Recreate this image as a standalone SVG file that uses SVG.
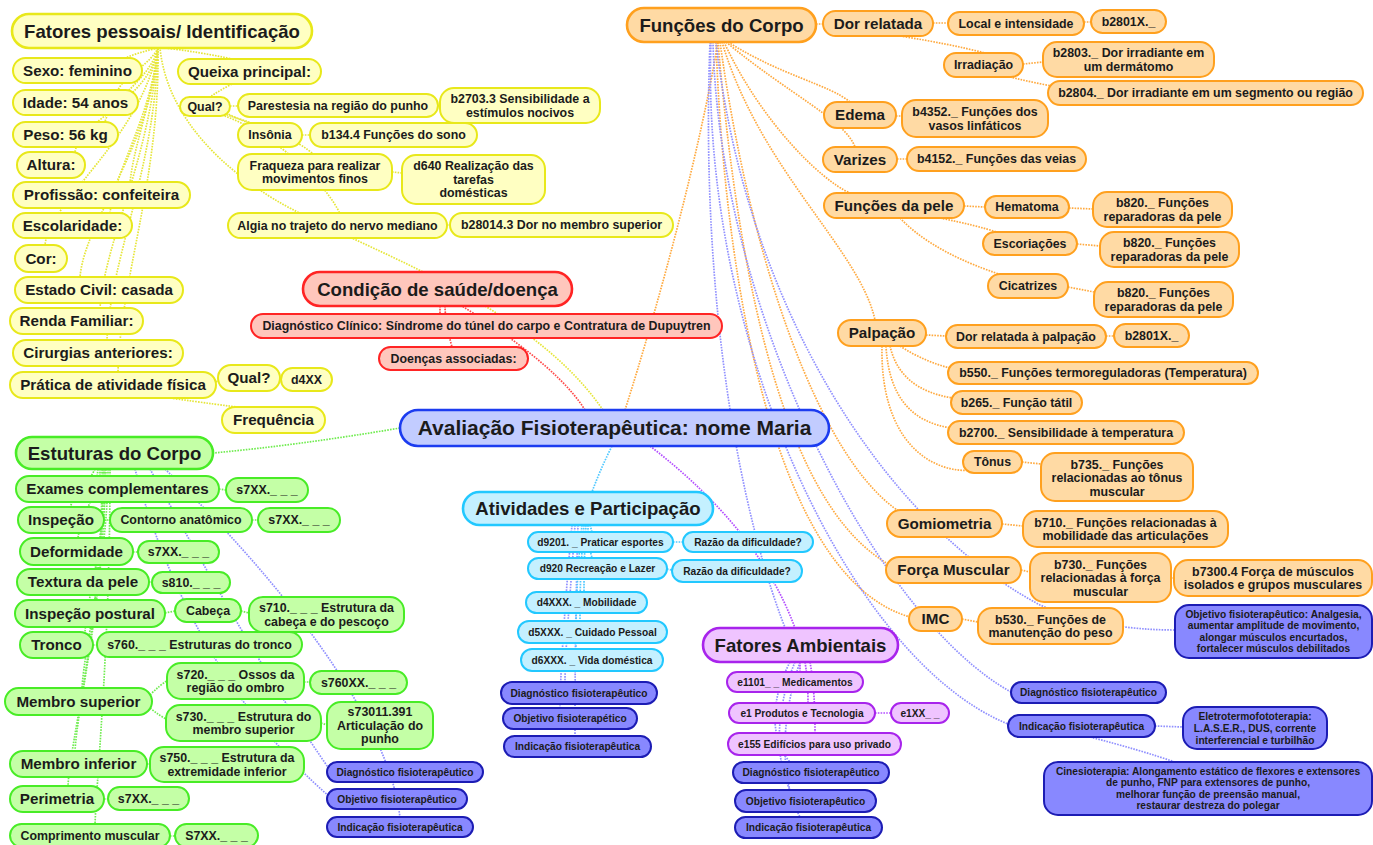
<svg xmlns="http://www.w3.org/2000/svg" width="1373" height="845" viewBox="0 0 1373 845">
<style>
text{font-family:"Liberation Sans",Arial,Helvetica,sans-serif;font-weight:bold;fill:#1b1b1b;text-anchor:middle}
.fc{font-size:21px}.f1{font-size:18.6px}.f2{font-size:15.2px}.f3{font-size:12.4px}.f4{font-size:10.2px}
rect{stroke-width:2}
rect.L1{stroke-width:2.6}
.y rect{fill:#ffffc2;stroke:#e8e81a}
.r rect{fill:#ffc6bc;stroke:#ff2424}
.c rect{fill:#c2ccff;stroke:#1c3cf0;stroke-width:2.6}
.g rect{fill:#c4ffa6;stroke:#48ec26}
.cy rect{fill:#c4f0ff;stroke:#22c8ff}
.p rect{fill:#efc4ff;stroke:#a824ec}
.o rect{fill:#ffdaa4;stroke:#ffa01e}
.i rect{fill:#8888ff;stroke:#1c1cb4}
#connectors path{fill:none;stroke-width:1.7;stroke-dasharray:1.6 1.2}
.ly{stroke:#e6e63a}.lr{stroke:#ff4a4a}.lo{stroke:#ffaa40}.li{stroke:#9090ff}.lg{stroke:#70ec50}.lc{stroke:#50c8ff}.lp{stroke:#b450ff}
</style>
<rect width="1373" height="845" fill="#ffffff"/>
<g id="connectors">
<path class="ly" d="M603,410 C520,290 330,240 260,190 C200,150 165,100 160,48"/>
<path class="ly" d="M158,48 Q140,52 125,58"/>
<path class="ly" d="M158,48 C150,65 125,75 118,90"/>
<path class="ly" d="M158,48 C150,80 110,100 105,122"/>
<path class="ly" d="M158,48 C150,100 80,120 75,152"/>
<path class="ly" d="M158,48 C150,110 135,140 130,182"/>
<path class="ly" d="M158,48 C150,120 115,170 110,213"/>
<path class="ly" d="M158,48 C140,140 50,200 45,245"/>
<path class="ly" d="M158,48 C150,150 85,220 80,277"/>
<path class="ly" d="M158,48 C150,160 105,240 100,308"/>
<path class="ly" d="M158,48 C155,170 110,260 107,340"/>
<path class="ly" d="M158,48 C160,180 120,280 118,372"/>
<path class="ly" d="M165,48 Q200,52 232,59"/>
<path class="ly" d="M232,84 Q220,90 210,97"/>
<path class="ly" d="M230,106 L238,106"/>
<path class="ly" d="M226,113 Q240,120 252,124"/>
<path class="ly" d="M224,114 C260,125 300,140 315,156"/>
<path class="ly" d="M222,115 C280,135 330,190 340,214"/>
<path class="ly" d="M438,106 L440,106"/>
<path class="ly" d="M302,135 L310,135"/>
<path class="ly" d="M392,172 L402,173"/>
<path class="ly" d="M447,225 L450,225"/>
<path class="ly" d="M216,382 L219,380"/>
<path class="ly" d="M170,398 Q220,405 245,408"/>
<path class="ly" d="M280,379 L281,379"/>
<path class="lr" d="M585,410 C560,370 500,330 462,306"/>
<path class="lr" d="M440,306 L440,314"/>
<path class="lr" d="M445,306 C445,320 450,340 452,347"/>
<path class="lo" d="M625,410 C660,300 700,150 718,42"/>
<path class="lo" d="M816,24 L823,24"/>
<path class="lo" d="M728,42 C780,75 830,85 850,102"/>
<path class="lo" d="M726,42 C790,95 845,120 855,147"/>
<path class="lo" d="M724,42 C760,120 820,180 850,193"/>
<path class="lo" d="M722,42 C760,170 860,250 875,320"/>
<path class="lo" d="M720,42 C750,260 820,460 900,512"/>
<path class="lo" d="M718,42 C740,300 790,510 890,565"/>
<path class="lo" d="M716,42 C725,300 780,580 910,617"/>
<path class="lo" d="M933,23 L948,23"/>
<path class="lo" d="M1084,22 L1091,22"/>
<path class="lo" d="M900,36 Q950,44 985,53"/>
<path class="lo" d="M1023,64 L1043,62"/>
<path class="lo" d="M1010,77 Q1030,82 1052,86"/>
<path class="lo" d="M896,116 L902,116"/>
<path class="lo" d="M897,159 L907,159"/>
<path class="lo" d="M964,206 L985,207"/>
<path class="lo" d="M940,218 Q975,225 1000,233"/>
<path class="lo" d="M900,218 C930,250 980,268 1005,276"/>
<path class="lo" d="M1069,208 L1093,209"/>
<path class="lo" d="M1077,244 L1100,246"/>
<path class="lo" d="M1068,287 L1094,292"/>
<path class="lo" d="M926,335 L946,336"/>
<path class="lo" d="M1106,336 L1114,336"/>
<path class="lo" d="M900,346 Q925,362 950,368"/>
<path class="lo" d="M890,346 Q900,390 953,398"/>
<path class="lo" d="M886,346 Q890,420 952,428"/>
<path class="lo" d="M882,346 C880,440 930,475 975,470"/>
<path class="lo" d="M1022,462 L1041,464"/>
<path class="lo" d="M1002,524 L1023,526"/>
<path class="lo" d="M1021,570 L1030,572"/>
<path class="lo" d="M1171,578 L1174,578"/>
<path class="lo" d="M962,619 L978,622"/>
<path class="li" d="M710,42 C700,300 740,520 790,640"/>
<path class="li" d="M713,42 C720,320 880,620 1011,692"/>
<path class="li" d="M711,42 C700,340 850,660 1008,724"/>
<path class="li" d="M716,42 C745,300 880,520 1040,605 Q1100,630 1175,630"/>
<path class="li" d="M1155,726 L1183,727"/>
<path class="li" d="M1090,737 Q1140,750 1175,762"/>
<path class="li" d="M150,469 C200,560 280,700 330,770"/>
<path class="li" d="M135,469 C170,600 240,720 330,797"/>
<path class="li" d="M165,469 C280,580 390,720 400,818"/>
<path class="li" d="M575,525 C570,600 565,650 565,682"/>
<path class="li" d="M572,525 C565,600 560,680 560,708"/>
<path class="li" d="M578,525 C575,620 575,700 575,736"/>
<path class="li" d="M790,662 C770,700 770,740 790,762"/>
<path class="li" d="M795,662 C775,710 775,760 790,790"/>
<path class="li" d="M800,662 C780,720 780,780 800,817"/>
<path class="lg" d="M400,428 Q300,445 213,453"/>
<path class="lg" d="M100,469 L100,476"/>
<path class="lg" d="M95,469 C90,480 75,495 70,507"/>
<path class="lg" d="M98,469 C95,500 80,520 78,538"/>
<path class="lg" d="M102,469 C102,510 100,540 100,569"/>
<path class="lg" d="M104,469 C104,520 95,570 95,600"/>
<path class="lg" d="M106,469 C106,540 88,590 85,632"/>
<path class="lg" d="M108,469 C108,560 85,640 82,688"/>
<path class="lg" d="M105,469 C105,600 78,700 75,751"/>
<path class="lg" d="M103,469 C103,620 70,740 68,786"/>
<path class="lg" d="M110,469 C110,640 98,760 95,824"/>
<path class="lg" d="M219,489 L226,490"/>
<path class="lg" d="M104,520 L110,520"/>
<path class="lg" d="M252,520 L258,520"/>
<path class="lg" d="M133,552 L138,552"/>
<path class="lg" d="M149,582 L152,582"/>
<path class="lg" d="M165,613 L175,611"/>
<path class="lg" d="M241,611 L249,613"/>
<path class="lg" d="M93,645 L97,645"/>
<path class="lg" d="M150,695 Q160,685 168,680"/>
<path class="lg" d="M150,708 Q160,716 168,720"/>
<path class="lg" d="M304,682 L310,682"/>
<path class="lg" d="M321,723 L327,725"/>
<path class="lg" d="M147,764 L150,764"/>
<path class="lg" d="M104,799 L108,799"/>
<path class="lg" d="M170,836 L175,836"/>
<path class="lc" d="M612,446 Q600,470 592,492"/>
<path class="lc" d="M590,525 L592,532"/>
<path class="lc" d="M588,525 C588,540 590,550 592,558"/>
<path class="lc" d="M586,525 C584,560 584,580 584,592"/>
<path class="lc" d="M584,525 C580,570 580,600 580,621"/>
<path class="lc" d="M582,525 C576,580 576,620 576,649"/>
<path class="lc" d="M673,542 L683,542"/>
<path class="lc" d="M667,569 L672,570"/>
<path class="lp" d="M650,446 C720,500 770,560 795,628"/>
<path class="lp" d="M800,662 L800,672"/>
<path class="lp" d="M805,662 C808,680 808,695 808,703"/>
<path class="lp" d="M810,662 C815,690 815,720 815,733"/>
<path class="lp" d="M875,713 L891,713"/>
</g>

<g id="fp" class="y"><rect class="L1" x="12" y="14" width="300" height="34" rx="17"/><text class="f1" x="162" y="37.5">Fatores pessoais/ Identificação</text></g>
<g id="sexo" class="y"><rect x="13" y="58" width="129" height="25" rx="12.5"/><text class="f2" x="77.5" y="75.8">Sexo: feminino</text></g>
<g id="queixa" class="y"><rect x="178" y="59" width="143" height="25" rx="12.5"/><text class="f2" x="249.5" y="76.8">Queixa principal:</text></g>
<g id="idade" class="y"><rect x="13" y="90" width="125" height="25" rx="12.5"/><text class="f2" x="75.5" y="107.8">Idade: 54 anos</text></g>
<g id="qual1" class="y"><rect x="180" y="97" width="50" height="19" rx="9.5"/><text class="f3" x="205" y="110.8">Qual?</text></g>
<g id="parestesia" class="y"><rect x="238" y="94" width="200" height="23" rx="11.5"/><text class="f3" x="338" y="109.8">Parestesia na região do punho</text></g>
<g id="b2703" class="y"><rect x="440" y="88" width="160" height="35" rx="14"/><text class="f3"><tspan x="520" y="103">b2703.3 Sensibilidade a</tspan><tspan x="520" y="116.5">estímulos nocivos</tspan></text></g>
<g id="peso" class="y"><rect x="13" y="122" width="105" height="25" rx="12.5"/><text class="f2" x="65.5" y="139.8">Peso: 56 kg</text></g>
<g id="insonia" class="y"><rect x="238" y="123" width="64" height="24" rx="12"/><text class="f3" x="270" y="139.3">Insônia</text></g>
<g id="b134" class="y"><rect x="310" y="123" width="167" height="24" rx="12"/><text class="f3" x="393.5" y="139.3">b134.4 Funções do sono</text></g>
<g id="altura" class="y"><rect x="17" y="152" width="68" height="26" rx="13"/><text class="f2" x="51" y="170.3">Altura:</text></g>
<g id="fraqueza" class="y"><rect x="238" y="154" width="154" height="36" rx="14"/><text class="f3"><tspan x="315" y="169.5">Fraqueza para realizar</tspan><tspan x="315" y="183">movimentos finos</tspan></text></g>
<g id="d640" class="y"><rect x="402" y="155" width="143" height="49" rx="14"/><text class="f3"><tspan x="473.5" y="170.3">d640 Realização das</tspan><tspan x="473.5" y="183.8">tarefas</tspan><tspan x="473.5" y="197.3">domésticas</tspan></text></g>
<g id="profissao" class="y"><rect x="13" y="182" width="177" height="26" rx="13"/><text class="f2" x="101.5" y="200.3">Profissão: confeiteira</text></g>
<g id="escolaridade" class="y"><rect x="13" y="213" width="119" height="25" rx="12.5"/><text class="f2" x="72.5" y="230.8">Escolaridade:</text></g>
<g id="algia" class="y"><rect x="228" y="213" width="219" height="25" rx="12.5"/><text class="f3" x="337.5" y="229.8">Algia no trajeto do nervo mediano</text></g>
<g id="b28014" class="y"><rect x="450" y="213" width="223" height="24" rx="12"/><text class="f3" x="561.5" y="229.3">b28014.3 Dor no membro superior</text></g>
<g id="cor" class="y"><rect x="15" y="245" width="52" height="27" rx="13.5"/><text class="f2" x="41" y="263.8">Cor:</text></g>
<g id="civil" class="y"><rect x="15" y="277" width="168" height="26" rx="13"/><text class="f2" x="99" y="295.3">Estado Civil: casada</text></g>
<g id="renda" class="y"><rect x="10" y="308" width="133" height="26" rx="13"/><text class="f2" x="76.5" y="326.3">Renda Familiar:</text></g>
<g id="cirurgias" class="y"><rect x="13" y="340" width="170" height="26" rx="13"/><text class="f2" x="98" y="358.3">Cirurgias anteriores:</text></g>
<g id="pratica" class="y"><rect x="10" y="372" width="206" height="26" rx="13"/><text class="f2" x="113" y="390.3">Prática de atividade física</text></g>
<g id="qual2" class="y"><rect x="218" y="365" width="62" height="26" rx="13"/><text class="f2" x="249" y="383.3">Qual?</text></g>
<g id="d4xx" class="y"><rect x="281" y="368" width="51" height="23" rx="11.5"/><text class="f3" x="306.5" y="383.8">d4XX</text></g>
<g id="frequencia" class="y"><rect x="222" y="407" width="103" height="26" rx="13"/><text class="f2" x="273.5" y="425.3">Frequência</text></g>

<g id="condicao" class="r"><rect class="L1" x="303" y="272" width="269" height="34" rx="17"/><text class="f1" x="437.5" y="295.5">Condição de saúde/doença</text></g>
<g id="diagclinico" class="r"><rect x="251" y="314" width="471" height="24" rx="12"/><text class="f3" x="486.5" y="330.3">Diagnóstico Clínico: Síndrome do túnel do carpo e Contratura de Dupuytren</text></g>
<g id="doencas" class="r"><rect x="379" y="347" width="149" height="23" rx="11.5"/><text class="f3" x="453.5" y="362.8">Doenças associadas:</text></g>

<g id="central" class="c"><rect x="400" y="410" width="429" height="36" rx="18"/><text class="fc" x="614.5" y="435.4">Avaliação Fisioterapêutica: nome Maria</text></g>

<g id="estruturas" class="g"><rect class="L1" x="16" y="437" width="197" height="32" rx="16"/><text class="f1" x="114.5" y="459.5">Estuturas do Corpo</text></g>
<g id="exames" class="g"><rect x="16" y="476" width="203" height="26" rx="13"/><text class="f2" x="117.5" y="494.3">Exames complementares</text></g>
<g id="s7a" class="g"><rect x="226" y="478" width="82" height="24" rx="12"/><text class="f3" x="267" y="494.3">s7XX._ _ _</text></g>
<g id="inspecao" class="g"><rect x="18" y="507" width="86" height="26" rx="13"/><text class="f2" x="61" y="525.3">Inspeção</text></g>
<g id="contorno" class="g"><rect x="110" y="508" width="142" height="24" rx="12"/><text class="f3" x="181" y="524.3">Contorno anatômico</text></g>
<g id="s7b" class="g"><rect x="258" y="508" width="82" height="24" rx="12"/><text class="f3" x="299" y="524.3">s7XX._ _ _</text></g>
<g id="deformidade" class="g"><rect x="20" y="538" width="113" height="27" rx="13.5"/><text class="f2" x="76.5" y="556.8">Deformidade</text></g>
<g id="s7c" class="g"><rect x="138" y="541" width="81" height="22" rx="11"/><text class="f3" x="178.5" y="556.3">s7XX._ _ _</text></g>
<g id="textura" class="g"><rect x="17" y="569" width="132" height="26" rx="13"/><text class="f2" x="83" y="587.3">Textura da pele</text></g>
<g id="s810" class="g"><rect x="152" y="572" width="78" height="21" rx="10.5"/><text class="f3" x="191" y="586.8">s810._ _ _</text></g>
<g id="postural" class="g"><rect x="15" y="600" width="150" height="27" rx="13.5"/><text class="f2" x="90" y="618.8">Inspeção postural</text></g>
<g id="cabeca" class="g"><rect x="175" y="599" width="66" height="23" rx="11.5"/><text class="f3" x="208" y="614.8">Cabeça</text></g>
<g id="s710" class="g"><rect x="249" y="597" width="155" height="35" rx="14"/><text class="f3"><tspan x="326.5" y="612">s710._ _ _ Estrutura da</tspan><tspan x="326.5" y="625.5">cabeça e do pescoço</tspan></text></g>
<g id="tronco" class="g"><rect x="20" y="632" width="73" height="26" rx="13"/><text class="f2" x="56.5" y="650.3">Tronco</text></g>
<g id="s760" class="g"><rect x="97" y="632" width="205" height="25" rx="12.5"/><text class="f3" x="199.5" y="648.8">s760._ _ _ Estruturas do tronco</text></g>
<g id="s720" class="g"><rect x="167" y="663" width="137" height="36" rx="14"/><text class="f3"><tspan x="235.5" y="678.5">s720._ _ _ Ossos da</tspan><tspan x="235.5" y="692">região do ombro</tspan></text></g>
<g id="s760xx" class="g"><rect x="310" y="671" width="97" height="23" rx="11.5"/><text class="f3" x="358.5" y="686.8">s760XX._ _ _</text></g>
<g id="msuperior" class="g"><rect x="5" y="688" width="147" height="27" rx="13.5"/><text class="f2" x="78.5" y="706.8">Membro superior</text></g>
<g id="s730" class="g"><rect x="166" y="705" width="155" height="36" rx="14"/><text class="f3"><tspan x="243.5" y="720.5">s730._ _ _ Estrutura do</tspan><tspan x="243.5" y="734">membro superior</tspan></text></g>
<g id="s73011" class="g"><rect x="327" y="702" width="106" height="47" rx="14"/><text class="f3"><tspan x="380" y="716.3">s73011.391</tspan><tspan x="380" y="729.8">Articulação do</tspan><tspan x="380" y="743.3">punho</tspan></text></g>
<g id="minferior" class="g"><rect x="10" y="751" width="137" height="26" rx="13"/><text class="f2" x="78.5" y="769.3">Membro inferior</text></g>
<g id="s750" class="g"><rect x="150" y="747" width="154" height="35" rx="14"/><text class="f3"><tspan x="227" y="762">s750._ _ _ Estrutura da</tspan><tspan x="227" y="775.5">extremidade inferior</tspan></text></g>
<g id="perimetria" class="g"><rect x="10" y="786" width="94" height="26" rx="13"/><text class="f2" x="57" y="804.3">Perimetria</text></g>
<g id="s7d" class="g"><rect x="108" y="787" width="81" height="23" rx="11.5"/><text class="f3" x="148.5" y="802.8">s7XX._ _ _</text></g>
<g id="comprimento" class="g"><rect x="10" y="824" width="160" height="23" rx="11.5"/><text class="f3" x="90" y="839.8">Comprimento muscular</text></g>
<g id="s7e" class="g"><rect x="175" y="824" width="83" height="23" rx="11.5"/><text class="f3" x="216.5" y="839.8">S7XX._ _ _</text></g>
<g id="g-diag" class="i"><rect x="327" y="762" width="156" height="20" rx="10"/><text class="f4" x="405" y="775.6">Diagnóstico fisioterapêutico</text></g>
<g id="g-obj" class="i"><rect x="327" y="789" width="140" height="20" rx="10"/><text class="f4" x="397" y="802.6">Objetivo fisioterapêutico</text></g>
<g id="g-ind" class="i"><rect x="327" y="817" width="146" height="20" rx="10"/><text class="f4" x="400" y="830.6">Indicação fisioterapêutica</text></g>

<g id="atividades" class="cy"><rect class="L1" x="463" y="492" width="250" height="33" rx="16.5"/><text class="f1" x="588" y="515">Atividades e Participação</text></g>
<g id="d9201" class="cy"><rect x="528" y="532" width="145" height="20" rx="10"/><text class="f4" x="600.5" y="545.6">d9201. _ Praticar esportes</text></g>
<g id="razao1" class="cy"><rect x="683" y="532" width="130" height="20" rx="10"/><text class="f4" x="748" y="545.6">Razão da dificuldade?</text></g>
<g id="d920" class="cy"><rect x="528" y="558" width="139" height="21" rx="10.5"/><text class="f4" x="597.5" y="572.1">d920 Recreação e Lazer</text></g>
<g id="razao2" class="cy"><rect x="672" y="560" width="130" height="22" rx="11"/><text class="f4" x="737" y="574.6">Razão da dificuldade?</text></g>
<g id="d4xxx" class="cy"><rect x="526" y="592" width="121" height="21" rx="10.5"/><text class="f4" x="586.5" y="606.1">d4XXX. _ Mobilidade</text></g>
<g id="d5xxx" class="cy"><rect x="518" y="621" width="149" height="22" rx="11"/><text class="f4" x="592.5" y="635.6">d5XXX. _ Cuidado Pessoal</text></g>
<g id="d6xxx" class="cy"><rect x="521" y="649" width="142" height="22" rx="11"/><text class="f4" x="592" y="663.6">d6XXX. _ Vida doméstica</text></g>
<g id="a-diag" class="i"><rect x="501" y="682" width="156" height="22" rx="11"/><text class="f4" x="579" y="696.6">Diagnóstico fisioterapêutico</text></g>
<g id="a-obj" class="i"><rect x="503" y="708" width="134" height="21" rx="10.5"/><text class="f4" x="570" y="722.1">Objetivo fisioterapético</text></g>
<g id="a-ind" class="i"><rect x="504" y="736" width="147" height="21" rx="10.5"/><text class="f4" x="577.5" y="750.1">Indicação fisioterapêutica</text></g>

<g id="ambientais" class="p"><rect class="L1" x="703" y="628" width="195" height="34" rx="17"/><text class="f1" x="800.5" y="651.5">Fatores Ambientais</text></g>
<g id="e1101" class="p"><rect x="727" y="672" width="136" height="20" rx="10"/><text class="f4" x="795" y="685.6">e1101_ _ Medicamentos</text></g>
<g id="e1" class="p"><rect x="729" y="703" width="146" height="20" rx="10"/><text class="f4" x="802" y="716.6">e1 Produtos e Tecnologia</text></g>
<g id="e1xx" class="p"><rect x="891" y="703" width="58" height="20" rx="10"/><text class="f4" x="920" y="716.6">e1XX_ _</text></g>
<g id="e155" class="p"><rect x="728" y="733" width="173" height="22" rx="11"/><text class="f4" x="814.5" y="747.6">e155 Edifícios para uso privado</text></g>
<g id="p-diag" class="i"><rect x="733" y="762" width="156" height="21" rx="10.5"/><text class="f4" x="811" y="776.1">Diagnóstico fisioterapêutico</text></g>
<g id="p-obj" class="i"><rect x="735" y="790" width="141" height="22" rx="11"/><text class="f4" x="805.5" y="804.6">Objetivo fisioterapêutico</text></g>
<g id="p-ind" class="i"><rect x="735" y="817" width="147" height="21" rx="10.5"/><text class="f4" x="808.5" y="831.1">Indicação fisioterapêutica</text></g>

<g id="funcoes" class="o"><rect class="L1" x="627" y="8" width="189" height="34" rx="17"/><text class="f1" x="721.5" y="31.5">Funções do Corpo</text></g>
<g id="dor" class="o"><rect x="823" y="11" width="110" height="25" rx="12.5"/><text class="f2" x="878" y="28.8">Dor relatada</text></g>
<g id="local" class="o"><rect x="948" y="12" width="136" height="23" rx="11.5"/><text class="f3" x="1016" y="27.8">Local e intensidade</text></g>
<g id="b2801a" class="o"><rect x="1091" y="10" width="75" height="23" rx="11.5"/><text class="f3" x="1128.5" y="25.8">b2801X._</text></g>
<g id="irradiacao" class="o"><rect x="944" y="53" width="79" height="24" rx="12"/><text class="f3" x="983.5" y="69.3">Irradiação</text></g>
<g id="b2803" class="o"><rect x="1043" y="42" width="171" height="35" rx="14"/><text class="f3"><tspan x="1128.5" y="57">b2803._ Dor irradiante em</tspan><tspan x="1128.5" y="70.5">um dermátomo</tspan></text></g>
<g id="b2804" class="o"><rect x="1048" y="81" width="315" height="24" rx="12"/><text class="f3" x="1205.5" y="97.3">b2804._ Dor irradiante em um segmento ou região</text></g>
<g id="edema" class="o"><rect x="824" y="102" width="72" height="26" rx="13"/><text class="f2" x="860" y="120.3">Edema</text></g>
<g id="b4352" class="o"><rect x="902" y="100" width="146" height="37" rx="14"/><text class="f3"><tspan x="975" y="116">b4352._ Funções dos</tspan><tspan x="975" y="129.5">vasos linfáticos</tspan></text></g>
<g id="varizes" class="o"><rect x="823" y="147" width="74" height="25" rx="12.5"/><text class="f2" x="860" y="164.8">Varizes</text></g>
<g id="b4152" class="o"><rect x="907" y="147" width="179" height="24" rx="12"/><text class="f3" x="996.5" y="163.3">b4152._ Funções das veias</text></g>
<g id="pele" class="o"><rect x="824" y="193" width="140" height="25" rx="12.5"/><text class="f2" x="894" y="210.8">Funções da pele</text></g>
<g id="hematoma" class="o"><rect x="985" y="196" width="84" height="22" rx="11"/><text class="f3" x="1027" y="211.3">Hematoma</text></g>
<g id="b820a" class="o"><rect x="1093" y="192" width="139" height="35" rx="14"/><text class="f3"><tspan x="1162.5" y="207">b820._ Funções</tspan><tspan x="1162.5" y="220.5">reparadoras da pele</tspan></text></g>
<g id="escoriacoes" class="o"><rect x="983" y="232" width="94" height="23" rx="11.5"/><text class="f3" x="1030" y="247.8">Escoriações</text></g>
<g id="b820b" class="o"><rect x="1100" y="232" width="139" height="35" rx="14"/><text class="f3"><tspan x="1169.5" y="247">b820._ Funções</tspan><tspan x="1169.5" y="260.5">reparadoras da pele</tspan></text></g>
<g id="cicatrizes" class="o"><rect x="988" y="274" width="80" height="24" rx="12"/><text class="f3" x="1028" y="290.3">Cicatrizes</text></g>
<g id="b820c" class="o"><rect x="1094" y="282" width="139" height="35" rx="14"/><text class="f3"><tspan x="1163.5" y="297">b820._ Funções</tspan><tspan x="1163.5" y="310.5">reparadoras da pele</tspan></text></g>
<g id="palpacao" class="o"><rect x="838" y="320" width="88" height="26" rx="13"/><text class="f2" x="882" y="338.3">Palpação</text></g>
<g id="dorpalp" class="o"><rect x="946" y="325" width="160" height="23" rx="11.5"/><text class="f3" x="1026" y="340.8">Dor relatada à palpação</text></g>
<g id="b2801b" class="o"><rect x="1114" y="324" width="75" height="23" rx="11.5"/><text class="f3" x="1151.5" y="339.8">b2801X._</text></g>
<g id="b550" class="o"><rect x="948" y="362" width="310" height="22" rx="11"/><text class="f3" x="1103" y="377.3">b550._ Funções termoreguladoras (Temperatura)</text></g>
<g id="b265" class="o"><rect x="951" y="391" width="131" height="23" rx="11.5"/><text class="f3" x="1016.5" y="406.8">b265._ Função tátil</text></g>
<g id="b2700" class="o"><rect x="948" y="421" width="236" height="23" rx="11.5"/><text class="f3" x="1066" y="436.8">b2700._ Sensibilidade à temperatura</text></g>
<g id="tonus" class="o"><rect x="963" y="451" width="59" height="22" rx="11"/><text class="f3" x="992.5" y="466.3">Tônus</text></g>
<g id="b735" class="o"><rect x="1041" y="453" width="152" height="48" rx="14"/><text class="f3"><tspan x="1117" y="468.8">b735._ Funções</tspan><tspan x="1117" y="482.3">relacionadas ao tônus</tspan><tspan x="1117" y="495.8">muscular</tspan></text></g>
<g id="gomiometria" class="o"><rect x="887" y="510" width="115" height="27" rx="13.5"/><text class="f2" x="944.5" y="528.8">Gomiometria</text></g>
<g id="b710" class="o"><rect x="1023" y="511" width="205" height="36" rx="14"/><text class="f3"><tspan x="1125.5" y="526.5">b710._ Funções relacionadas à</tspan><tspan x="1125.5" y="540">mobilidade das articulações</tspan></text></g>
<g id="forca" class="o"><rect x="886" y="557" width="135" height="26" rx="13"/><text class="f2" x="953.5" y="575.3">Força Muscular</text></g>
<g id="b730" class="o"><rect x="1030" y="553" width="141" height="49" rx="14"/><text class="f3"><tspan x="1100.5" y="568.8">b730._ Funções</tspan><tspan x="1100.5" y="582.3">relacionadas à força</tspan><tspan x="1100.5" y="595.8">muscular</tspan></text></g>
<g id="b7300" class="o"><rect x="1174" y="560" width="198" height="36" rx="14"/><text class="f3"><tspan x="1273" y="575.5">b7300.4 Força de músculos</tspan><tspan x="1273" y="589">isolados e grupos musculares</tspan></text></g>
<g id="imc" class="o"><rect x="909" y="607" width="53" height="24" rx="12"/><text class="f2" x="935.5" y="624.3">IMC</text></g>
<g id="b530" class="o"><rect x="978" y="608" width="145" height="36" rx="14"/><text class="f3"><tspan x="1050.5" y="623.5">b530._ Funções de</tspan><tspan x="1050.5" y="637">manutenção do peso</tspan></text></g>

<g id="o-obj" class="i"><rect x="1175" y="605" width="197" height="53" rx="14"/><text class="f4"><tspan x="1273.5" y="617.9">Objetivo fisioterapêutico: Analgesia,</tspan><tspan x="1273.5" y="629.4">aumentar amplitude de movimento,</tspan><tspan x="1273.5" y="640.9">alongar músculos encurtados,</tspan><tspan x="1273.5" y="652.4">fortalecer músculos debilitados</tspan></text></g>
<g id="o-diag" class="i"><rect x="1011" y="682" width="155" height="21" rx="10.5"/><text class="f4" x="1088.5" y="696.1">Diagnóstico fisioterapêutico</text></g>
<g id="o-ind" class="i"><rect x="1008" y="715" width="147" height="22" rx="11"/><text class="f4" x="1081.5" y="729.6">Indicação fisioterapêutica</text></g>
<g id="eletro" class="i"><rect x="1183" y="707" width="144" height="42" rx="14"/><text class="f4"><tspan x="1255" y="719.6">Eletrotermofototerapia:</tspan><tspan x="1255" y="731.6">L.A.S.E.R., DUS, corrente</tspan><tspan x="1255" y="743.6">interferencial e turbilhão</tspan></text></g>
<g id="cinesio" class="i"><rect x="1044" y="762" width="328" height="53" rx="14"/><text class="f4"><tspan x="1208" y="774.9">Cinesioterapia: Alongamento estático de flexores e extensores</tspan><tspan x="1208" y="786.4">de punho, FNP para extensores de punho,</tspan><tspan x="1208" y="797.9">melhorar função de preensão manual,</tspan><tspan x="1208" y="809.4">restaurar destreza do polegar</tspan></text></g>
</svg>
